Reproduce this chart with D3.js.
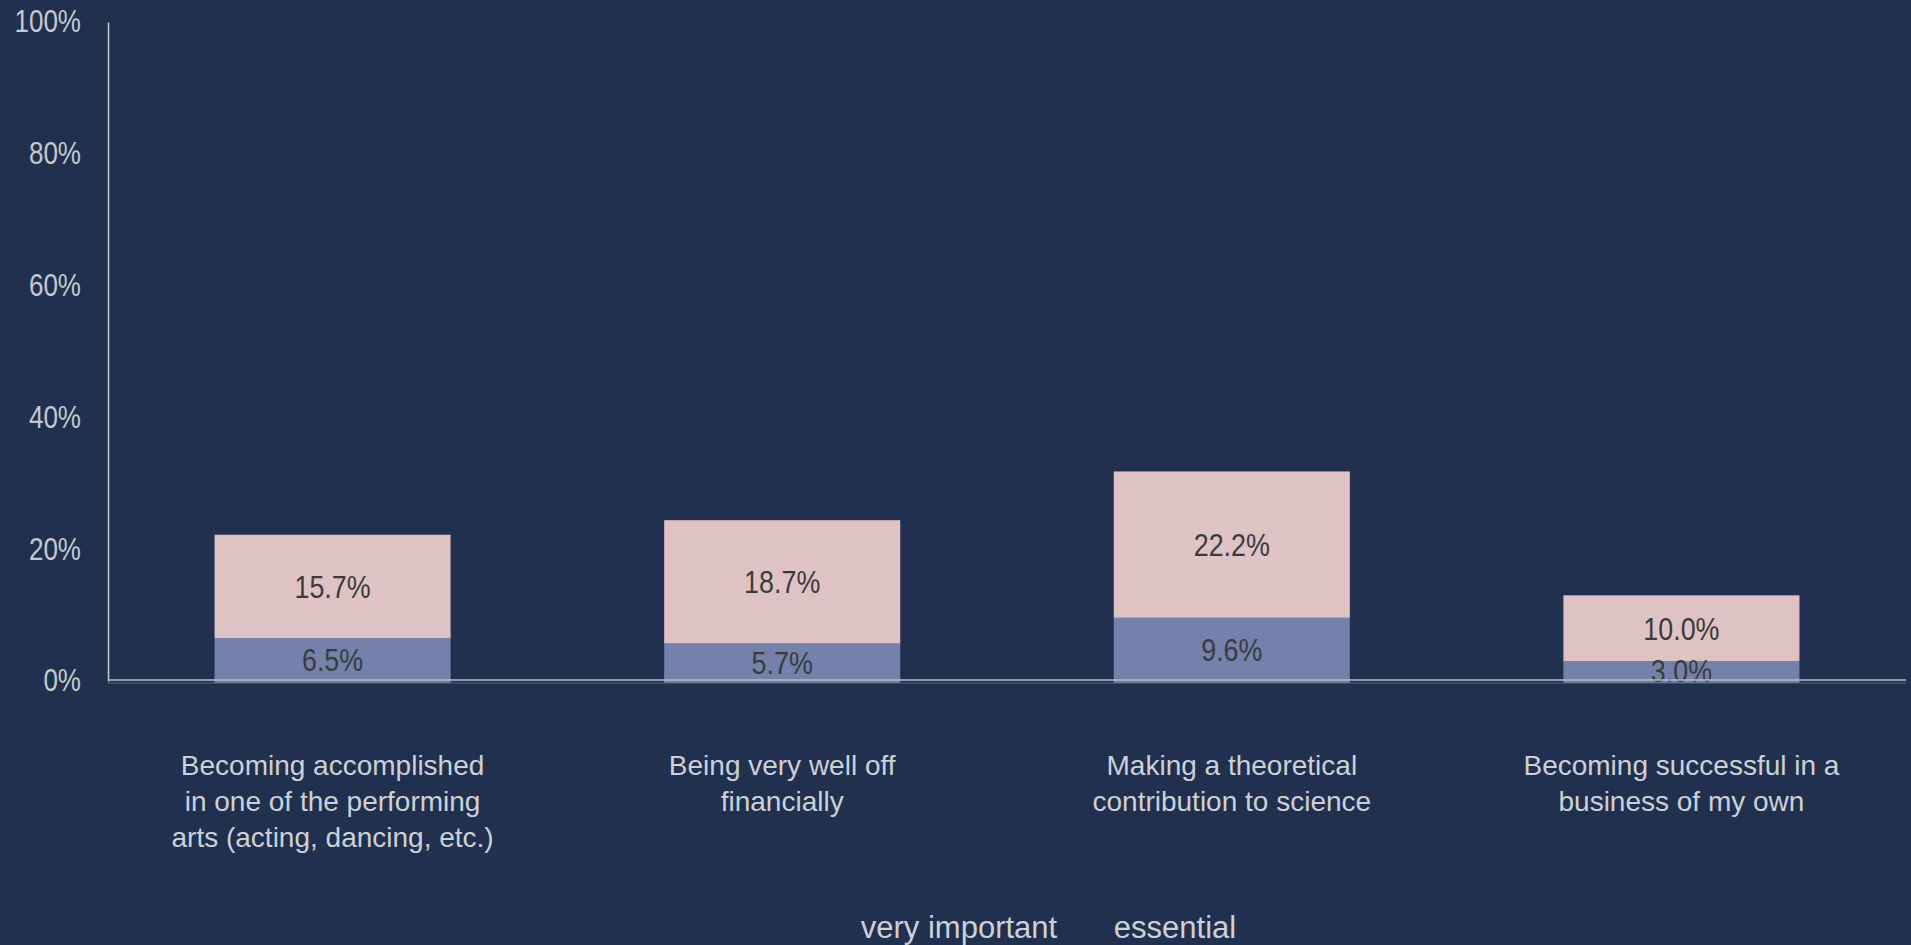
<!DOCTYPE html>
<html><head><meta charset="utf-8">
<script src="https://cdn.jsdelivr.net/npm/d3@7"></script>
<style>
html,body{margin:0;padding:0;background:#21304f;overflow:hidden;}
text{font-family:"Liberation Sans",Arial,sans-serif;}
</style></head>
<body>
<svg id="chart" width="1911" height="945"></svg>
<script>
const categories = [
  ["Becoming accomplished","in one of the performing","arts (acting, dancing, etc.)"],
  ["Being very well off","financially"],
  ["Making a theoretical","contribution to science"],
  ["Becoming successful in a","business of my own"]
];
const essential = [6.5, 5.7, 9.6, 3.0];
const veryImportant = [15.7, 18.7, 22.2, 10.0];
const yTicks = [0, 20, 40, 60, 80, 100];
const seriesNames = ["very important", "essential"];

const W = 1911, H = 945;
const svg = d3.select("#chart");
svg.append("rect").attr("width", W).attr("height", H).attr("fill", "#21304f");

const x = d3.scaleBand().domain(d3.range(categories.length)).range([108, 1906]).paddingInner(0.475).paddingOuter(0.237);
const y = d3.scaleLinear().domain([0, 100]).range([681, 22]);

const labelColor = "#cdd0d6";
const numColor = "#c4c8d0";
const squeeze = 0.84;

// y axis
const yAxis = svg.append("g").attr("transform", `translate(108,0)`)
  .call(d3.axisLeft(y).tickValues(yTicks).tickFormat(d => d + "%").tickSize(0).tickPadding(27));
yAxis.select(".domain").attr("stroke", "#c9cbd0").attr("stroke-width", 1.5);
yAxis.selectAll(".tick text").each(function () {
  const t = d3.select(this);
  const px = +t.attr("x");
  t.attr("x", 0).attr("transform", `translate(${px},0) scale(${squeeze},1)`);
}).attr("fill", numColor).attr("font-size", 31).attr("font-family", '"Liberation Sans",Arial,sans-serif');

// bars
const data = categories.map((c, i) => ({i, e: essential[i], v: veryImportant[i]}));
const g = svg.append("g");
g.selectAll("rect.ess").data(data).join("rect")
  .attr("x", d => x(d.i)).attr("width", x.bandwidth())
  .attr("y", d => y(d.e)).attr("height", d => y(0) - y(d.e) + 2)
  .attr("fill", "#7580ab");
g.selectAll("rect.vi").data(data).join("rect")
  .attr("x", d => x(d.i)).attr("width", x.bandwidth())
  .attr("y", d => y(d.e + d.v)).attr("height", d => y(d.e) - y(d.e + d.v))
  .attr("fill", "#dfc3c4");

// x axis line
svg.append("line").attr("x1", 108).attr("x2", 1906).attr("y1", y(0) - 1).attr("y2", y(0) - 1)
  .attr("stroke", "#b9bcc6").attr("stroke-width", 1.5);
svg.append("line").attr("x1", 108).attr("x2", 1906).attr("y1", y(0) + 2).attr("y2", y(0) + 2)
  .attr("stroke", "#5d6780").attr("stroke-width", 1);

// value labels
function valueLabel(sel, yv, val) {
  sel.attr("transform", d => `translate(${x(d.i) + x.bandwidth() / 2},${y(yv(d))}) scale(${squeeze},1)`)
    .attr("text-anchor", "middle").attr("dominant-baseline", "central")
    .attr("font-size", 32).attr("fill", "#3b3b3d")
    .text(d => val(d).toFixed(1) + "%");
}
g.selectAll("text.vi").data(data).join("text").call(valueLabel, d => d.e + d.v / 2, d => d.v);
g.selectAll("text.es").data(data).join("text").call(valueLabel, d => d.e / 2, d => d.e);

// category labels
const cl = svg.append("g");
categories.forEach((lines, i) => {
  const t = cl.append("text").attr("text-anchor", "middle").attr("fill", labelColor).attr("font-size", 28)
    .attr("transform", `translate(${x(i) + x.bandwidth() / 2},775)`);
  lines.forEach((ln, k) => t.append("tspan").attr("x", 0).attr("y", k * 36).text(ln));
});

// legend
const legendX = [959, 1175];
svg.append("g").selectAll("text").data(seriesNames).join("text")
  .attr("x", (d, i) => legendX[i]).attr("y", 938)
  .attr("text-anchor", "middle").attr("fill", labelColor).attr("font-size", 31)
  .text(d => d);
</script>
</body></html>
